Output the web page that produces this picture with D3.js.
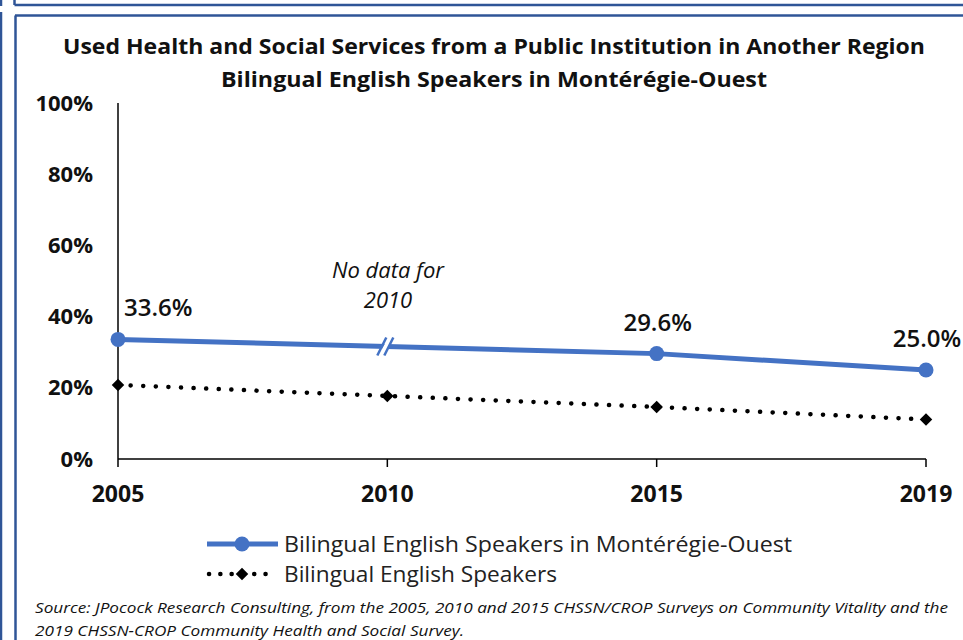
<!DOCTYPE html>
<html>
<head>
<meta charset="utf-8">
<script src="https://cdn.jsdelivr.net/npm/d3@7"></script>
<style>
  body { margin: 0; background: #fff; }
  svg { display: block; }
</style>
</head>
<body>
<div id="chart"></div>
<script>
// data
const years = ["2005", "2010", "2015", "2019"];
const monteregie = [33.6, null, 29.6, 25.0];   // no data for 2010
const bilingual = [20.8, 17.7, 14.6, 11.1];
const yTicks = [0, 20, 40, 60, 80, 100];
const titleLines = [
  "Used Health and Social Services from a Public Institution in Another Region",
  "Bilingual English Speakers in Montérégie-Ouest"
];
const legendLabels = ["Bilingual English Speakers in Montérégie-Ouest", "Bilingual English Speakers"];
const sourceLines = [
  "Source: JPocock Research Consulting, from the 2005, 2010  and 2015  CHSSN/CROP Surveys on Community Vitality and the",
  "2019  CHSSN-CROP Community Health and Social Survey."
];

const width = 963, height = 640;
const blue = "#4472C4", frame = "#2F5597";
const font = "'Open Sans', sans-serif";

const svg = d3.select("#chart").append("svg")
  .attr("width", width).attr("height", height);

// frame lines (bottom of previous box + double border of this box)
const frameLines = [
  [1, 0, 1, 6], [14.5, 0, 14.5, 5], [14.5, 5, width, 5],
  [1, 12, 1, height], [15, 15.5, width, 15.5], [15.5, 15.5, 15.5, height]
];
svg.selectAll("line.frame").data(frameLines).enter().append("line")
  .attr("x1", d => d[0]).attr("y1", d => d[1]).attr("x2", d => d[2]).attr("y2", d => d[3])
  .attr("stroke", frame).attr("stroke-width", 2.5);

// title
svg.selectAll("text.title").data(titleLines).enter().append("text")
  .attr("x", 494).attr("y", (d, i) => 54 + i * 33)
  .attr("text-anchor", "middle")
  .style("font-family", font).style("font-weight", "bold").style("font-size", "21px")
  .attr("fill", "#111")
  .attr("textLength", (d, i) => i === 0 ? 862 : 546)
  .attr("lengthAdjust", "spacingAndGlyphs")
  .text(d => d);

// scales
const x = d3.scalePoint().domain(years).range([118, 926]);
const y = d3.scaleLinear().domain([0, 100]).range([459, 103]);

// y axis labels
svg.selectAll("text.ytick").data(yTicks).enter().append("text")
  .attr("x", 93).attr("y", d => y(d) + 7.5)
  .attr("text-anchor", "end")
  .style("font-family", font).style("font-weight", "bold").style("font-size", "22px")
  .attr("fill", "#111")
  .text(d => d + "%");

// axes lines
svg.append("line").attr("x1", x("2005")).attr("x2", x("2005")).attr("y1", y(100)).attr("y2", y(0))
  .attr("stroke", "#000").attr("stroke-width", 1.5);
svg.append("line").attr("x1", x("2005")).attr("x2", x("2019")).attr("y1", y(0)).attr("y2", y(0))
  .attr("stroke", "#000").attr("stroke-width", 1.5);
svg.selectAll("line.xtick").data(years).enter().append("line")
  .attr("x1", d => x(d)).attr("x2", d => x(d)).attr("y1", y(0)).attr("y2", y(0) + 8)
  .attr("stroke", "#000").attr("stroke-width", 1.5);

// x axis labels
svg.selectAll("text.xtick").data(years).enter().append("text")
  .attr("x", d => x(d)).attr("y", 502)
  .attr("text-anchor", "middle")
  .style("font-family", font).style("font-weight", "bold").style("font-size", "23px")
  .attr("fill", "#111")
  .text(d => d);

// bilingual dotted series
const bData = years.map((yr, i) => ({ year: yr, v: bilingual[i] }));
const line = d3.line().x(d => x(d.year)).y(d => y(d.v));
svg.append("path").datum(bData)
  .attr("d", line).attr("fill", "none")
  .attr("stroke", "#000").attr("stroke-width", 4.5)
  .attr("stroke-linecap", "round").attr("stroke-dasharray", "0.1 12.5");
svg.selectAll("path.diamond").data(bData).enter().append("path")
  .attr("d", d3.symbol(d3.symbolDiamond2, 100))
  .attr("transform", d => `translate(${x(d.year)},${y(d.v)})`)
  .attr("fill", "#000");

// montérégie series, gap at 2010 spanned
const mData = years.map((yr, i) => ({ year: yr, v: monteregie[i] })).filter(d => d.v !== null);
svg.append("path").datum(mData)
  .attr("d", line).attr("fill", "none")
  .attr("stroke", blue).attr("stroke-width", 5);

// break mark at 2010
const p0 = mData[0], p1 = mData[1];
const bx = x("2010");
const by = y(p0.v) + (y(p1.v) - y(p0.v)) * (bx - x(p0.year)) / (x(p1.year) - x(p0.year));
const brk = svg.append("g").attr("transform", `translate(${bx},${by})`);
brk.append("path").attr("d", "M-9,9 L1,-9 L7,-9 L-3,9 Z").attr("fill", "#fff");
[-6, 1].forEach(o => {
  brk.append("line").attr("x1", o - 4).attr("y1", 9).attr("x2", o + 5).attr("y2", -9)
    .attr("stroke", blue).attr("stroke-width", 2.5);
});

svg.selectAll("circle.m").data(mData).enter().append("circle")
  .attr("cx", d => x(d.year)).attr("cy", d => y(d.v)).attr("r", 7.5)
  .attr("fill", blue);

// value labels
svg.selectAll("text.val").data(mData).enter().append("text")
  .attr("x", (d, i) => i === 0 ? x(d.year) + 6 : x(d.year) + 1)
  .attr("y", d => y(d.v) - 23)
  .attr("text-anchor", (d, i) => i === 0 ? "start" : "middle")
  .style("font-family", font).style("font-weight", "600").style("font-size", "24px")
  .attr("fill", "#111")
  .text(d => d.v.toFixed(1) + "%");

// no data note
svg.selectAll("text.note").data(["No data for", "2010"]).enter().append("text")
  .attr("x", 388).attr("y", (d, i) => 278 + i * 30)
  .attr("text-anchor", "middle")
  .style("font-family", font).style("font-style", "italic").style("font-size", "22px")
  .attr("fill", "#111")
  .text(d => d);

// legend
const lg = svg.append("g");
lg.append("line").attr("x1", 207).attr("x2", 278).attr("y1", 544).attr("y2", 544)
  .attr("stroke", blue).attr("stroke-width", 5);
lg.append("circle").attr("cx", 242).attr("cy", 544).attr("r", 7.5).attr("fill", blue);
lg.append("line").attr("x1", 209).attr("x2", 276).attr("y1", 574).attr("y2", 574)
  .attr("stroke", "#000").attr("stroke-width", 4.5)
  .attr("stroke-linecap", "round").attr("stroke-dasharray", "0.1 11.2");
lg.append("path").attr("d", d3.symbol(d3.symbolDiamond2, 100))
  .attr("transform", "translate(242,574)").attr("fill", "#000");
lg.selectAll("text").data(legendLabels).enter().append("text")
  .attr("x", 284).attr("y", (d, i) => 552 + i * 30)
  .style("font-family", font).style("font-size", "22px")
  .attr("fill", "#222")
  .attr("textLength", (d, i) => i === 0 ? 508 : 273)
  .attr("lengthAdjust", "spacingAndGlyphs")
  .text(d => d);

// source
svg.selectAll("text.src").data(sourceLines).enter().append("text")
  .attr("x", 35).attr("y", (d, i) => 613 + i * 23)
  .style("font-family", font).style("font-style", "italic").style("font-size", "14px")
  .attr("fill", "#111")
  .attr("textLength", (d, i) => i === 0 ? 913 : 429)
  .attr("lengthAdjust", "spacingAndGlyphs")
  .text(d => d);
</script>
</body>
</html>
